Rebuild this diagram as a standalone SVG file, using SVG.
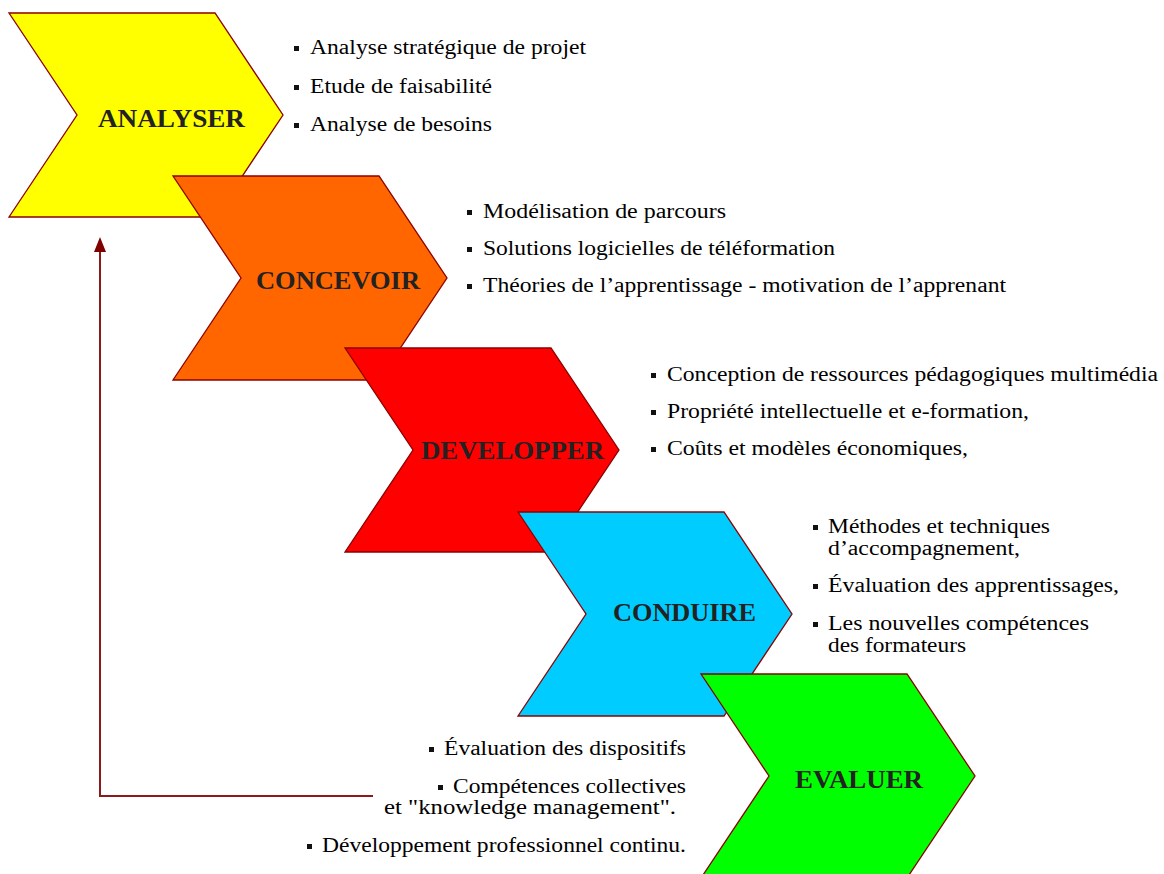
<svg xmlns="http://www.w3.org/2000/svg" width="1164" height="874" viewBox="0 0 1164 874">
<style>
.chev{stroke:#8b0000;stroke-width:1.3;stroke-linejoin:miter}
.lbl{font-family:"Liberation Serif","Times New Roman",serif;font-weight:bold;font-size:25px;fill:#222}
.t{font-family:"Liberation Serif","Times New Roman",serif;font-size:20px;fill:#000}
.b{fill:#111}
.conn{fill:none;stroke:#8b1a1a;stroke-width:2}
.head{fill:#800000}
</style>
<defs>
<polygon id="chevshape" points="0,0 206,0 274,102 206,204 0,204 68,102"/>
<rect id="bul" x="0" y="-5" width="5" height="5"/>
</defs>
<rect width="1164" height="874" fill="#fff"/>

<g id="connectors">
<path class="conn" d="M373,796 L100,796 L100,250"/>
<polygon class="head" points="100,237 106,252 94,252"/>
</g>

<g id="analyser">
<use href="#chevshape" x="9" y="13" class="chev" fill="#ffff00"/>
<text class="lbl" x="98" y="127" textLength="147" lengthAdjust="spacingAndGlyphs">ANALYSER</text>
<use href="#bul" x="294" y="51" class="b"/>
<text class="t" x="310" y="54" textLength="276" lengthAdjust="spacingAndGlyphs">Analyse stratégique de projet</text>
<use href="#bul" x="294" y="90" class="b"/>
<text class="t" x="310" y="93" textLength="182" lengthAdjust="spacingAndGlyphs">Etude de faisabilité</text>
<use href="#bul" x="294" y="128" class="b"/>
<text class="t" x="310" y="131" textLength="182" lengthAdjust="spacingAndGlyphs">Analyse de besoins</text>
</g>

<g id="concevoir">
<use href="#chevshape" x="173" y="176" class="chev" fill="#ff6600"/>
<text class="lbl" x="256" y="289" textLength="164" lengthAdjust="spacingAndGlyphs">CONCEVOIR</text>
<use href="#bul" x="467" y="215" class="b"/>
<text class="t" x="483" y="218" textLength="243" lengthAdjust="spacingAndGlyphs">Modélisation de parcours</text>
<use href="#bul" x="467" y="252" class="b"/>
<text class="t" x="483" y="255" textLength="352" lengthAdjust="spacingAndGlyphs">Solutions logicielles de téléformation</text>
<use href="#bul" x="467" y="289" class="b"/>
<text class="t" x="483" y="292" textLength="523" lengthAdjust="spacingAndGlyphs">Théories de l’apprentissage - motivation de l’apprenant</text>
</g>

<g id="developper">
<use href="#chevshape" x="345" y="348" class="chev" fill="#ff0000"/>
<text class="lbl" x="421" y="459" textLength="183" lengthAdjust="spacingAndGlyphs">DEVELOPPER</text>
<use href="#bul" x="651" y="378" class="b"/>
<text class="t" x="667" y="381" textLength="491" lengthAdjust="spacingAndGlyphs">Conception de ressources pédagogiques multimédia</text>
<use href="#bul" x="651" y="415" class="b"/>
<text class="t" x="667" y="418" textLength="362" lengthAdjust="spacingAndGlyphs">Propriété intellectuelle et e-formation,</text>
<use href="#bul" x="651" y="452" class="b"/>
<text class="t" x="667" y="455" textLength="301" lengthAdjust="spacingAndGlyphs">Coûts et modèles économiques,</text>
</g>

<g id="conduire">
<use href="#chevshape" x="518" y="512" class="chev" fill="#00ccff"/>
<text class="lbl" x="613" y="621" textLength="143" lengthAdjust="spacingAndGlyphs">CONDUIRE</text>
<use href="#bul" x="813" y="530" class="b"/>
<text class="t" x="828" y="533" textLength="222" lengthAdjust="spacingAndGlyphs">Méthodes et techniques</text>
<text class="t" x="828" y="555" textLength="192" lengthAdjust="spacingAndGlyphs">d’accompagnement,</text>
<use href="#bul" x="813" y="589" class="b"/>
<text class="t" x="828" y="592" textLength="291" lengthAdjust="spacingAndGlyphs">Évaluation des apprentissages,</text>
<use href="#bul" x="813" y="627" class="b"/>
<text class="t" x="828" y="630" textLength="261" lengthAdjust="spacingAndGlyphs">Les nouvelles compétences</text>
<text class="t" x="828" y="652" textLength="138" lengthAdjust="spacingAndGlyphs">des formateurs</text>
</g>

<g id="evaluer">
<use href="#chevshape" x="701" y="674" class="chev" fill="#00ff00"/>
<text class="lbl" x="795" y="788" textLength="128" lengthAdjust="spacingAndGlyphs">EVALUER</text>
<use href="#bul" x="429" y="752" class="b"/>
<text class="t" x="444" y="755" textLength="242" lengthAdjust="spacingAndGlyphs">Évaluation des dispositifs</text>
<use href="#bul" x="438" y="790" class="b"/>
<text class="t" x="453" y="793" textLength="233" lengthAdjust="spacingAndGlyphs">Compétences collectives</text>
<text class="t" x="384" y="814" textLength="292" lengthAdjust="spacingAndGlyphs">et "knowledge management".</text>
<use href="#bul" x="307" y="849" class="b"/>
<text class="t" x="322" y="852" textLength="364" lengthAdjust="spacingAndGlyphs">Développement professionnel continu.</text>
</g>
</svg>
